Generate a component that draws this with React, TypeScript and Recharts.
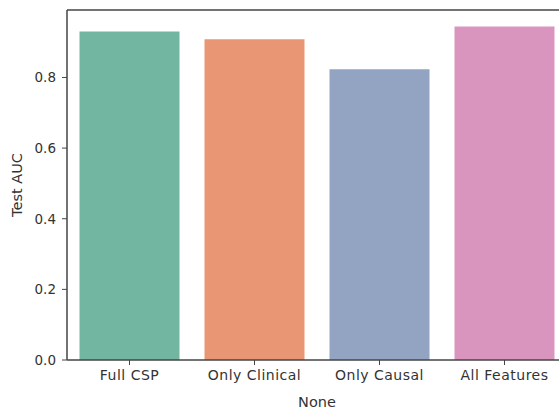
import { BarChart, Bar, XAxis, YAxis, Cell, ReferenceLine } from 'recharts'

const categories = ['Full CSP', 'Only Clinical', 'Only Causal', 'All Features']
const aucValues = [0.930, 0.908, 0.823, 0.944]
const barColors = ['#72b5a0', '#e99675', '#93a3c2', '#da95bf']
const yTicks = [0, 0.2, 0.4, 0.6, 0.8]
const yMax = 0.991

const data = categories.map((name, i) => ({ name, auc: aucValues[i] }))

const font = { fontFamily: 'DejaVu Sans', fill: '#333' }
const spine = '#444'

export default function App() {
  return (
    <div style={{ position: 'absolute', left: 0, top: 0, width: 559, height: 409, overflow: 'hidden', background: '#fff' }}>
      <BarChart
        width={567}
        height={409}
        data={data}
        margin={{ top: 10, right: 0, left: 0, bottom: 0 }}
        barCategoryGap="10%"
      >
        <XAxis
          dataKey="name"
          height={49}
          tickSize={5}
          tickMargin={5}
          tick={{ ...font, fontSize: 14, letterSpacing: 0.5 }}
          axisLine={{ stroke: spine, strokeWidth: 1.5 }}
          tickLine={{ stroke: spine }}
          label={{ value: 'None', position: 'insideBottom', offset: 2, style: { ...font, fontSize: 14.5 } }}
        />
        <YAxis
          width={67}
          domain={[0, yMax]}
          ticks={yTicks}
          tickFormatter={(v: number) => v.toFixed(1)}
          tickSize={5}
          tickMargin={6}
          tick={{ ...font, fontSize: 13.5 }}
          axisLine={{ stroke: spine, strokeWidth: 1.5 }}
          tickLine={{ stroke: spine }}
          allowDataOverflow
          label={{ value: 'Test AUC', angle: -90, position: 'insideLeft', offset: 17, style: { ...font, fontSize: 14.5, textAnchor: 'middle' } }}
        />
        <ReferenceLine y={yMax} stroke={spine} strokeWidth={1.5} />
        <Bar dataKey="auc" isAnimationActive={false}>
          {data.map((d, i) => (
            <Cell key={d.name} fill={barColors[i]} />
          ))}
        </Bar>
      </BarChart>
    </div>
  )
}
